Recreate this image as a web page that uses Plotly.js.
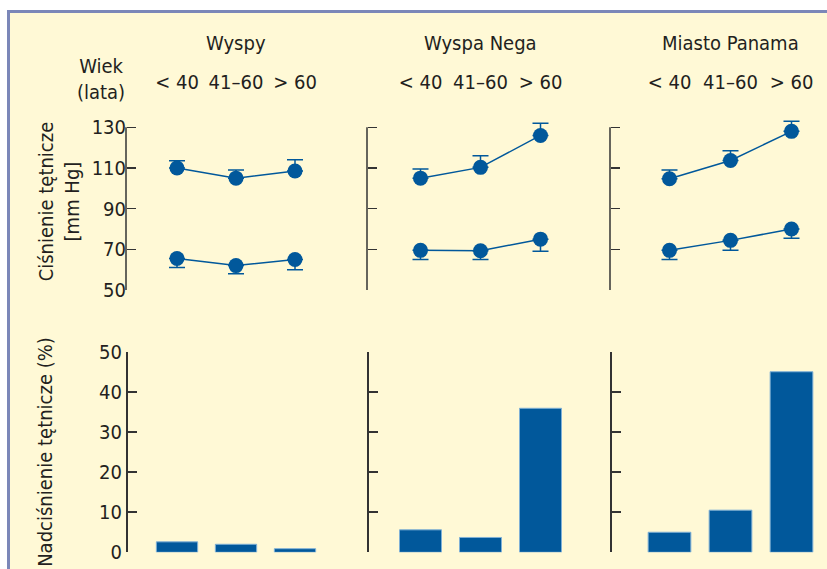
<!DOCTYPE html>
<html>
<head>
<meta charset="utf-8">
<script src="https://cdn.plot.ly/plotly-3.0.1.min.js"></script>
<style>html,body{margin:0;padding:0;background:#fff;}#chart{width:827px;height:569px;}</style>
</head>
<body>
<div id="chart"></div>
<script>
// ---- data ----
const ageGroups = ['< 40', '41–60', '> 60'];
const regions = ['Wyspy', 'Wyspa Nega', 'Miasto Panama'];

// systolic (upper) pressure, mm Hg, and upward error
const sbpWyspy = [110, 105, 108.5];
const sbpErrWyspy = [3.6, 4.0, 5.5];
const sbpNega = [105, 110.3, 126];
const sbpErrNega = [4.5, 5.7, 6.0];
const sbpPanama = [104.7, 113.7, 128];
const sbpErrPanama = [4.3, 4.8, 5.0];

// diastolic (lower) pressure, mm Hg, and downward error
const dbpWyspy = [65.5, 62, 65];
const dbpErrWyspy = [4.5, 4.0, 5.0];
const dbpNega = [69.5, 69.3, 75];
const dbpErrNega = [4.5, 4.3, 6.0];
const dbpPanama = [69.5, 74.4, 80];
const dbpErrPanama = [4.5, 4.9, 4.5];

// hypertension prevalence (%)
const htnWyspy = [2.6, 2.0, 0.9];
const htnNega = [5.6, 3.7, 35.9];
const htnPanama = [5.0, 10.5, 45.0];

const bpTicks = [50, 70, 90, 110, 130];
const htnTicks = [0, 10, 20, 30, 40, 50];

// ---- styling / layout ----
const W = 827, H = 569;
const FONT = 'Liberation Sans Narrow, DejaVu Sans Condensed, Arial Narrow, sans-serif';
const TXT = '#231f20';
const BLUE = '#01589b';
const AXC = '#333333';
const px = v => v / W;
const py = v => 1 - v / H;

// panel geometry: [axis x px, right px, first category px, px per category]
const panels = [
  [126, 330, 177, 59],
  [367, 576, 420.5, 60],
  [610, 825, 669.5, 61]
];
const bpMin = 50, bpMax = 130, bpTop = 137;
const bpPxPerUnit = (290 - 127.3) / (bpMax - bpMin);
const topDom = [py(290), py(127.3 - (bpTop - bpMax) * bpPxPerUnit)];
const botDom = [py(552.3), py(351.7)];

const sbp = [sbpWyspy, sbpNega, sbpPanama];
const sbpErr = [sbpErrWyspy, sbpErrNega, sbpErrPanama];
const dbp = [dbpWyspy, dbpNega, dbpPanama];
const dbpErr = [dbpErrWyspy, dbpErrNega, dbpErrPanama];
const htn = [htnWyspy, htnNega, htnPanama];
const zeros = [0, 0, 0];

const traces = [];
const layout = {
  width: W, height: H,
  margin: {l: 0, r: 0, t: 0, b: 0},
  paper_bgcolor: '#fff9d6',
  plot_bgcolor: 'rgba(0,0,0,0)',
  showlegend: false,
  font: {family: FONT, size: 20, color: TXT},
  annotations: [],
  shapes: [
    {type: 'rect', xref: 'paper', yref: 'paper', x0: 0, x1: 1, y0: py(10), y1: 1, fillcolor: '#ffffff', line: {width: 0}, layer: 'below'},
    {type: 'rect', xref: 'paper', yref: 'paper', x0: 0, x1: px(7), y0: 0, y1: 1, fillcolor: '#ffffff', line: {width: 0}, layer: 'below'},
    {type: 'rect', xref: 'paper', yref: 'paper', x0: px(7), x1: 1, y0: py(13), y1: py(10), fillcolor: '#7b87b8', line: {width: 0}, layer: 'below'},
    {type: 'rect', xref: 'paper', yref: 'paper', x0: px(7), x1: px(10), y0: 0, y1: py(10), fillcolor: '#7b87b8', line: {width: 0}, layer: 'below'}
  ]
};

panels.forEach((p, i) => {
  const [ax, right, c0, step] = p;
  const rmin = (ax - c0) / step;
  const rmax = rmin + (right - ax) / step;
  const tx = 'x' + (i + 1), ty = 'y' + (i + 1);
  const bx = 'x' + (i + 4), by = 'y' + (i + 4);
  const xk = i === 0 ? 'xaxis' : 'xaxis' + (i + 1);
  const yk = i === 0 ? 'yaxis' : 'yaxis' + (i + 1);

  const scatterStyle = {
    type: 'scatter', mode: 'lines+markers', cliponaxis: false,
    line: {color: BLUE, width: 1.5},
    marker: {color: BLUE, size: 15},
    xaxis: tx, yaxis: ty, hoverinfo: 'skip'
  };
  traces.push(Object.assign({}, scatterStyle, {
    x: ageGroups, y: sbp[i],
    error_y: {type: 'data', symmetric: false, array: sbpErr[i], arrayminus: zeros, color: BLUE, thickness: 1.5, width: 8}
  }));
  traces.push(Object.assign({}, scatterStyle, {
    x: ageGroups, y: dbp[i],
    error_y: {type: 'data', symmetric: false, array: zeros, arrayminus: dbpErr[i], color: BLUE, thickness: 1.5, width: 8}
  }));
  traces.push({
    type: 'bar', x: ageGroups, y: htn[i], width: 0.7,
    marker: {color: BLUE, line: {color: '#7fb0d6', width: 1}},
    xaxis: bx, yaxis: by, hoverinfo: 'skip'
  });

  layout[xk] = {
    type: 'category', domain: [px(ax), px(right)], range: [rmin, rmax],
    anchor: 'free', position: py(93), side: 'top',
    showline: false, ticks: '', showgrid: false, zeroline: false,
    tickfont: {family: FONT, size: 20, color: TXT}, fixedrange: true
  };
  layout['xaxis' + (i + 4)] = {
    type: 'category', domain: [px(ax), px(right)], range: [rmin, rmax],
    anchor: by, visible: false, fixedrange: true
  };
  const yCommon = {
    ticks: 'inside', ticklen: 9, tickwidth: 1.5, tickcolor: AXC,
    showgrid: false, zeroline: false, showticklabels: i === 0,
    tickfont: {family: FONT, size: 20, color: TXT}, fixedrange: true,
    anchor: 'free', position: px(ax)
  };
  // top panel: axis range leaves headroom so error bars are not clipped; the axis line is drawn only 50–130
  layout[yk] = Object.assign({}, yCommon, {
    domain: topDom, range: [bpMin, bpTop], tickvals: bpTicks, showline: false
  });
  layout.shapes.push({
    type: 'line', xref: 'paper', yref: ty, x0: px(ax), x1: px(ax), y0: bpMin, y1: bpMax,
    line: {color: AXC, width: 1.5}
  });
  layout['yaxis' + (i + 4)] = Object.assign({}, yCommon, {
    domain: botDom, range: [0, 50], tickvals: htnTicks,
    showline: true, linecolor: AXC, linewidth: 1.5
  });

  layout.annotations.push({
    text: regions[i], xref: tx, x: 1, yref: 'paper', y: py(43),
    showarrow: false, xanchor: 'center', yanchor: 'middle',
    font: {family: FONT, size: 20, color: TXT}
  });
});

layout.yaxis.title = {text: 'Ciśnienie tętnicze<br>[mm Hg]', standoff: 5, font: {family: FONT, size: 20, color: TXT}};
layout.yaxis4.title = {text: 'Nadciśnienie tętnicze (%)', standoff: 39, font: {family: FONT, size: 20, color: TXT}};

layout.annotations.push({
  text: 'Wiek<br>(lata)', xref: 'paper', x: px(101), yref: 'paper', y: py(79),
  showarrow: false, xanchor: 'center', yanchor: 'middle', align: 'center',
  font: {family: FONT, size: 20, color: TXT}
});

Plotly.newPlot('chart', traces, layout, {staticPlot: true, displayModeBar: false});
</script>
</body>
</html>
